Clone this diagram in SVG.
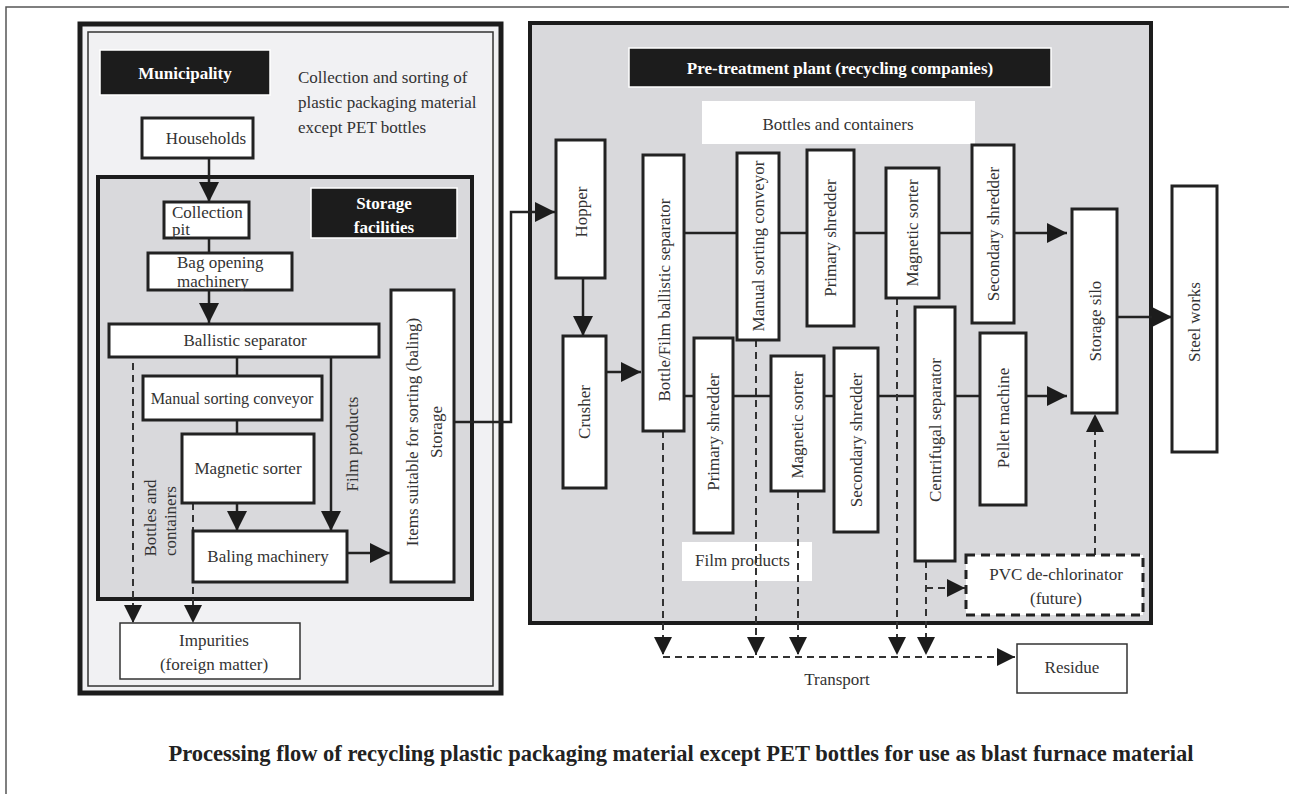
<svg xmlns="http://www.w3.org/2000/svg" width="1289" height="794" viewBox="0 0 1289 794">
<defs>
<style>
text{font-family:"Liberation Serif","Times New Roman",serif;font-size:17px;fill:#333}
.b{font-weight:bold;fill:#fff;font-size:17px}
.cap{font-weight:bold;fill:#222;font-size:22.5px}
.m{text-anchor:middle}
.box{fill:#fff;stroke:#222;stroke-width:3}
.thin{fill:#fff;stroke:#333;stroke-width:1.5}
.blk{fill:#1c1c1c;stroke:#fff;stroke-width:1.5}
.ln{fill:none;stroke:#222;stroke-width:2.5}
.dl{fill:none;stroke:#333;stroke-width:2;stroke-dasharray:7,5}
</style>
<marker id="ah" viewBox="0 0 10 10" refX="10" refY="5" markerWidth="20" markerHeight="20" markerUnits="userSpaceOnUse" orient="auto"><path d="M0,0L10,5L0,10z" fill="#1c1c1c"/></marker>
<marker id="ahs" viewBox="0 0 10 10" refX="10" refY="5" markerWidth="18" markerHeight="18" markerUnits="userSpaceOnUse" orient="auto"><path d="M0,0L10,5L0,10z" fill="#1c1c1c"/></marker>
</defs>
<rect width="1289" height="794" fill="#fff"/>
<path d="M6,794V7H1289" fill="none" stroke="#555" stroke-width="1.5"/>

<g id="municipality-panel">
<rect x="80" y="24" width="421" height="669" fill="#f1f1f3" stroke="#1c1c1c" stroke-width="5"/>
<rect x="88" y="32" width="405" height="654" fill="none" stroke="#333" stroke-width="1.5"/>
<rect class="blk" x="100" y="50" width="170" height="45"/>
<text class="b m" x="185" y="79">Municipality</text>
<text x="298" y="83">Collection and sorting of</text>
<text x="298" y="108">plastic packaging material</text>
<text x="298" y="133">except PET bottles</text>
</g>

<g id="storage-panel">
<rect x="98" y="177" width="374" height="422" fill="#d9d9dc" stroke="#1c1c1c" stroke-width="4"/>
<rect class="blk" x="311" y="188" width="146" height="50"/>
<text class="b m" x="384" y="209">Storage</text>
<text class="b m" x="384" y="233">facilities</text>
</g>

<g id="pretreatment-panel">
<rect x="530" y="23" width="621" height="600" fill="#d9d9dc" stroke="#1c1c1c" stroke-width="4"/>
<rect class="blk" x="629" y="48" width="422" height="39"/>
<text class="b m" x="840" y="74">Pre-treatment plant (recycling companies)</text>
<rect x="702" y="101" width="273" height="43" fill="#fff"/>
<text class="m" x="838" y="130">Bottles and containers</text>
<rect x="682" y="542" width="130" height="39" fill="#fff"/>
<text x="695" y="566">Film products</text>
</g>

<g id="connectors">
<path class="ln" d="M209,158V202" marker-end="url(#ah)"/>
<path class="ln" d="M209,238V253"/>
<path class="ln" d="M209,290V323" marker-end="url(#ah)"/>
<path class="ln" d="M237,357V376"/>
<path class="ln" d="M237,420V434"/>
<path class="ln" d="M237,503V531" marker-end="url(#ah)"/>
<path class="ln" d="M331,357V531" marker-end="url(#ah)"/>
<path class="ln" d="M347,553H390" marker-end="url(#ah)"/>
<path class="dl" d="M133,363V623" marker-end="url(#ahs)"/>
<path class="dl" d="M193,503V623" marker-end="url(#ahs)"/>
<path class="ln" d="M454,422H511V212H555" marker-end="url(#ah)"/>
<path class="ln" d="M583,278V336" marker-end="url(#ah)"/>
<path class="ln" d="M606,372H641" marker-end="url(#ah)"/>
<path class="ln" d="M684,233H737M779,233H807M854,233H886M939,233H972"/>
<path class="ln" d="M1014,233H1067" marker-end="url(#ah)"/>
<path class="ln" d="M684,396H694M733,396H771M824,396H834M878,396H915M955,396H980"/>
<path class="ln" d="M1026,396H1067" marker-end="url(#ah)"/>
<path class="ln" d="M1117,317H1172" marker-end="url(#ah)"/>
<path class="dl" d="M663,431V655" marker-end="url(#ahs)"/>
<path class="dl" d="M756,340V655" marker-end="url(#ahs)"/>
<path class="dl" d="M798,491V655" marker-end="url(#ahs)"/>
<path class="dl" d="M897,298V655" marker-end="url(#ahs)"/>
<path class="dl" d="M926,561V655" marker-end="url(#ahs)"/>
<path class="dl" d="M926,588H965" marker-end="url(#ahs)"/>
<path class="dl" d="M663,657H1015" marker-end="url(#ahs)"/>
<path class="dl" d="M1095,555V414" marker-end="url(#ahs)"/>
</g>

<g id="households"><rect class="box" x="142" y="118" width="111" height="40"/><text class="m" x="206" y="144">Households</text></g>
<g id="collection-pit"><rect class="box" x="164" y="202" width="85" height="36"/><text x="172" y="218">Collection</text><text x="172" y="235">pit</text></g>
<g id="bag-opening"><rect class="box" x="148" y="253" width="144" height="37"/><text x="177" y="268">Bag opening</text><text x="177" y="287">machinery</text></g>
<g id="ballistic-separator"><rect class="box" x="109" y="324" width="270" height="33"/><text class="m" x="245" y="346">Ballistic separator</text></g>
<g id="manual-sorting"><rect class="box" x="143" y="376" width="179" height="44"/><text class="m" x="232" y="404" style="font-size:16.2px">Manual sorting conveyor</text></g>
<g id="magnetic-sorter-l"><rect class="box" x="182" y="434" width="132" height="69"/><text class="m" x="248" y="474">Magnetic sorter</text></g>
<g id="baling-machinery"><rect class="box" x="193" y="531" width="154" height="51"/><text class="m" x="268" y="562">Baling machinery</text></g>
<g id="items-storage"><rect class="box" x="391" y="290" width="63" height="292"/><text class="m" transform="translate(418,432) rotate(-90)">Items suitable for sorting (baling)</text><text class="m" transform="translate(442,432) rotate(-90)">Storage</text></g>
<g id="impurities"><rect class="thin" x="120" y="623" width="180" height="56"/><text class="m" x="214" y="646">Impurities</text><text class="m" x="214" y="670">(foreign matter)</text></g>
<g id="labels-left">
<text class="m" transform="translate(156,518) rotate(-90)">Bottles and</text>
<text class="m" transform="translate(176,521) rotate(-90)">containers</text>
<text class="m" transform="translate(358,444) rotate(-90)">Film products</text>
</g>

<g id="hopper"><rect class="box" x="556" y="140" width="49" height="138"/><text class="m" transform="translate(587,212) rotate(-90)">Hopper</text></g>
<g id="crusher"><rect class="box" x="563" y="336" width="43" height="152"/><text class="m" transform="translate(590,412) rotate(-90)">Crusher</text></g>
<g id="bottle-film-sep"><rect class="box" x="643" y="155" width="41" height="276"/><text class="m" transform="translate(670,300) rotate(-90)">Bottle/Film ballistic separator</text></g>
<g id="manual-sorting-r"><rect class="box" x="737" y="153" width="42" height="187"/><text class="m" transform="translate(764,246) rotate(-90)">Manual sorting conveyor</text></g>
<g id="primary-shredder-top"><rect class="box" x="807" y="150" width="47" height="176"/><text class="m" transform="translate(836,238) rotate(-90)">Primary shredder</text></g>
<g id="magnetic-sorter-top"><rect class="box" x="886" y="168" width="53" height="130"/><text class="m" transform="translate(918,233) rotate(-90)">Magnetic sorter</text></g>
<g id="secondary-shredder-top"><rect class="box" x="972" y="145" width="42" height="178"/><text class="m" transform="translate(999,234) rotate(-90)">Secondary shredder</text></g>
<g id="primary-shredder-bot"><rect class="box" x="694" y="338" width="39" height="195"/><text class="m" transform="translate(719,432) rotate(-90)">Primary shredder</text></g>
<g id="magnetic-sorter-bot"><rect class="box" x="771" y="356" width="53" height="135"/><text class="m" transform="translate(803,425) rotate(-90)">Magnetic sorter</text></g>
<g id="secondary-shredder-bot"><rect class="box" x="834" y="348" width="44" height="184"/><text class="m" transform="translate(862,440) rotate(-90)">Secondary shredder</text></g>
<g id="centrifugal-sep"><rect class="box" x="915" y="307" width="40" height="254"/><text class="m" transform="translate(941,430) rotate(-90)">Centrifugal separator</text></g>
<g id="pellet-machine"><rect class="box" x="980" y="333" width="46" height="172"/><text class="m" transform="translate(1009,418) rotate(-90)">Pellet machine</text></g>
<g id="storage-silo"><rect class="box" x="1072" y="209" width="45" height="204"/><text class="m" transform="translate(1101,321) rotate(-90)">Storage silo</text></g>
<g id="steel-works"><rect class="box" x="1172" y="186" width="45" height="266"/><text class="m" transform="translate(1200,322) rotate(-90)">Steel works</text></g>
<g id="pvc-dechlorinator"><rect x="966" y="555" width="177" height="60" fill="#fff" stroke="#222" stroke-width="3" stroke-dasharray="9,6"/><text class="m" x="1056" y="580">PVC de-chlorinator</text><text class="m" x="1056" y="604">(future)</text></g>
<g id="residue"><rect class="thin" x="1017" y="644" width="110" height="49"/><text class="m" x="1072" y="673">Residue</text></g>
<text class="m" x="837" y="685">Transport</text>

<text class="cap m" x="681" y="761">Processing flow of recycling plastic packaging material except PET bottles for use as blast furnace material</text>
</svg>
